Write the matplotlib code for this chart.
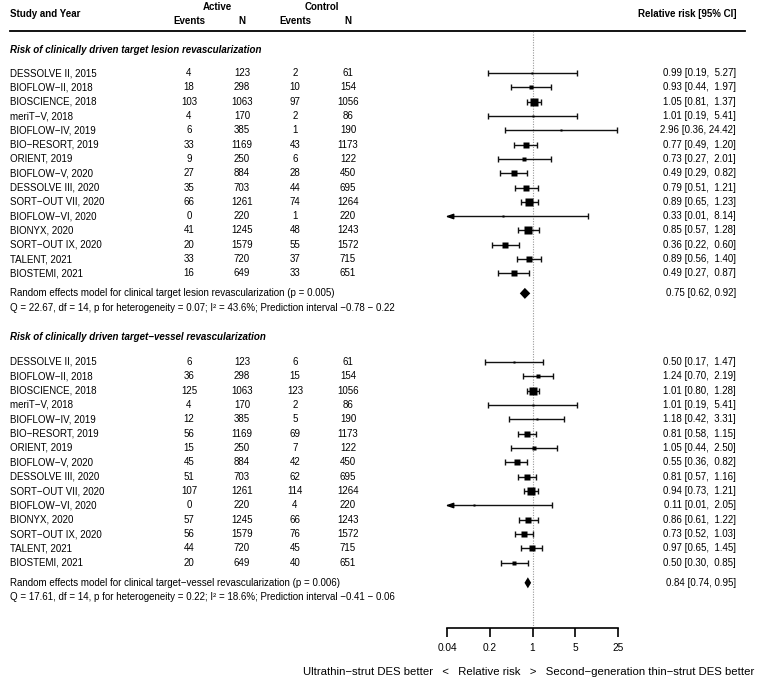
"""Forest plot: ultrathin-strut vs second-generation thin-strut DES."""

import numpy as np
import matplotlib
matplotlib.use("Agg")
import matplotlib.pyplot as plt
from matplotlib.lines import Line2D
from matplotlib.path import Path
from matplotlib.transforms import blended_transform_factory

plt.rcParams["font.family"] = ["Liberation Sans", "DejaVu Sans"]

# ---- data ----
studies = ["DESSOLVE II, 2015", "BIOFLOW\u2212II, 2018", "BIOSCIENCE, 2018",
           "meriT\u2212V, 2018", "BIOFLOW\u2212IV, 2019", "BIO\u2212RESORT, 2019",
           "ORIENT, 2019", "BIOFLOW\u2212V, 2020", "DESSOLVE III, 2020",
           "SORT\u2212OUT VII, 2020", "BIOFLOW\u2212VI, 2020", "BIONYX, 2020",
           "SORT\u2212OUT IX, 2020", "TALENT, 2021", "BIOSTEMI, 2021"]
n_active = [123, 298, 1063, 170, 385, 1169, 250, 884, 703, 1261, 220, 1245, 1579, 720, 649]
n_control = [61, 154, 1056, 86, 190, 1173, 122, 450, 695, 1264, 220, 1243, 1572, 715, 651]

tlr_ev_active = [4, 18, 103, 4, 6, 33, 9, 27, 35, 66, 0, 41, 20, 33, 16]
tlr_ev_control = [2, 10, 97, 2, 1, 43, 6, 28, 44, 74, 1, 48, 55, 37, 33]
tlr_rr = [0.99, 0.93, 1.05, 1.01, 2.96, 0.77, 0.73, 0.49, 0.79, 0.89, 0.33, 0.85, 0.36, 0.89, 0.49]
tlr_lo = [0.19, 0.44, 0.81, 0.19, 0.36, 0.49, 0.27, 0.29, 0.51, 0.65, 0.01, 0.57, 0.22, 0.56, 0.27]
tlr_hi = [5.27, 1.97, 1.37, 5.41, 24.42, 1.20, 2.01, 0.82, 1.21, 1.23, 8.14, 1.28, 0.60, 1.40, 0.87]
tlr_summary = (0.75, 0.62, 0.92)

tvr_ev_active = [6, 36, 125, 4, 12, 56, 15, 45, 51, 107, 0, 57, 56, 44, 20]
tvr_ev_control = [6, 15, 123, 2, 5, 69, 7, 42, 62, 114, 4, 66, 76, 45, 40]
tvr_rr = [0.50, 1.24, 1.01, 1.01, 1.18, 0.81, 1.05, 0.55, 0.81, 0.94, 0.11, 0.86, 0.73, 0.97, 0.50]
tvr_lo = [0.17, 0.70, 0.80, 0.19, 0.42, 0.58, 0.44, 0.36, 0.57, 0.73, 0.01, 0.61, 0.52, 0.65, 0.30]
tvr_hi = [1.47, 2.19, 1.28, 5.41, 3.31, 1.15, 2.50, 0.82, 1.16, 1.21, 2.05, 1.22, 1.03, 1.45, 0.85]
tvr_summary = (0.84, 0.74, 0.95)

sections = [
    dict(title="Risk of clinically driven target lesion revascularization",
         ev_a=tlr_ev_active, ev_c=tlr_ev_control, rr=tlr_rr, lo=tlr_lo, hi=tlr_hi,
         summary=tlr_summary,
         re_text="Random effects model for clinical target lesion revascularization (p = 0.005)",
         q_text="Q = 22.67, df = 14, p for heterogeneity = 0.07; I\u00b2 = 43.6%; "
                "Prediction interval \u22120.78 \u2212 0.22"),
    dict(title="Risk of clinically driven target\u2212vessel revascularization",
         ev_a=tvr_ev_active, ev_c=tvr_ev_control, rr=tvr_rr, lo=tvr_lo, hi=tvr_hi,
         summary=tvr_summary,
         re_text="Random effects model for clinical target\u2212vessel revascularization (p = 0.006)",
         q_text="Q = 17.61, df = 14, p for heterogeneity = 0.22; I\u00b2 = 18.6%; "
                "Prediction interval \u22120.41 \u2212 0.06"),
]

ticks = [0.04, 0.2, 1, 5, 25]
tick_labels = ["0.04", "0.2", "1", "5", "25"]

# ---- layout (pixel units from top) ----
W, H = 760, 683
row = 14.3
FS = 7

fig = plt.figure(figsize=(W / 100, H / 100), dpi=100)
ax_left, ax_right, ax_top, ax_bot = 447, 618, 32, 628
ax = fig.add_axes([ax_left / W, 1 - ax_bot / H, (ax_right - ax_left) / W, (ax_bot - ax_top) / H])
ax.set_xscale("log")
ax.set_xlim(ticks[0], ticks[-1])
ax.set_ylim(ax_bot, ax_top)
for s in ["top", "left", "right"]:
    ax.spines[s].set_visible(False)
ax.spines["bottom"].set_linewidth(1.2)
ax.set_yticks([])
ax.set_xticks(ticks)
ax.set_xticklabels(tick_labels)
ax.xaxis.set_minor_locator(matplotlib.ticker.NullLocator())
ax.tick_params(axis="x", direction="out", length=6.5, width=1.2, pad=4, labelsize=7.3)
ax.patch.set_alpha(0)

ax.axvline(1, color="#999999", lw=0.8, ls=(0, (1, 1.3)), zorder=0)

trans = blended_transform_factory(fig.transFigure, ax.transData)


def ftext(xpx, y, s, **kw):
    kw.setdefault("fontsize", FS)
    kw.setdefault("va", "center")
    ax.text(xpx / W, y, s, transform=trans, clip_on=False, **kw)


def fig_y(ypx):
    return 1 - ypx / H


# header
hdr = dict(fontsize=FS, fontweight="bold", va="center")
fig.text(10 / W, fig_y(14), "Study and Year", **hdr)
fig.text(217 / W, fig_y(7), "Active", ha="center", **hdr)
fig.text(322 / W, fig_y(7), "Control", ha="center", **hdr)
for xc, lab in zip([189, 242, 295, 348], ["Events", "N", "Events", "N"]):
    fig.text(xc / W, fig_y(21), lab, ha="center", **hdr)
fig.text(736 / W, fig_y(14), "Relative risk [95% CI]", ha="right", **hdr)
fig.add_artist(Line2D([10 / W, 745 / W], [fig_y(31), fig_y(31)], color="black", lw=1.3))

arrow_marker = Path([(0, 0), (2, 0.7), (2, -0.7), (0, 0)],
                    [Path.MOVETO, Path.LINETO, Path.LINETO, Path.CLOSEPOLY])

y_title = 50
for k, sec in enumerate(sections):
    rr = np.array(sec["rr"])
    lo = np.array(sec["lo"])
    hi = np.array(sec["hi"])
    ys = y_title + (1.62 + 0.12 * k) * row + (row + 0.05 * k) * np.arange(len(rr))

    # square size ~ sqrt of random-effects weight (DerSimonian-Laird)
    se = (np.log(hi) - np.log(lo)) / 3.92
    w = 1 / se ** 2
    yi = np.log(rr)
    mu = np.sum(w * yi) / np.sum(w)
    q = np.sum(w * (yi - mu) ** 2)
    tau2 = max(0.0, (q - (len(rr) - 1)) / (np.sum(w) - np.sum(w ** 2) / np.sum(w)))
    w_re = 1 / (se ** 2 + tau2)
    side = 8.4 * np.sqrt(w_re / w_re.max())
    side = np.clip(side, 2.4, None)

    ftext(10, y_title, sec["title"], fontweight="bold", style="italic")

    for i, y in enumerate(ys):
        ftext(10, y, studies[i])
        ftext(189, y, str(sec["ev_a"][i]), ha="center")
        ftext(242, y, str(n_active[i]), ha="center")
        ftext(295, y, str(sec["ev_c"][i]), ha="center")
        ftext(348, y, str(n_control[i]), ha="center")
        hi_s = f"{hi[i]:.2f}"
        pad = "  " if len(hi_s) < 5 else " "
        ftext(736, y, f"{rr[i]:.2f} [{lo[i]:.2f},{pad}{hi_s}]", ha="right")

        ax.errorbar(rr[i], y, xerr=[[rr[i] - lo[i]], [hi[i] - rr[i]]], fmt="none",
                    ecolor="#111111", elinewidth=1.0, capsize=2.4, capthick=1.0)
        ax.plot(rr[i], y, marker="s", ms=side[i] * 0.72, color="black", mec="none",
                clip_on=False, zorder=3)
        if lo[i] < ticks[0]:
            ax.plot(ticks[0], y, marker=arrow_marker, ms=9, color="black", mec="black",
                    clip_on=False, zorder=3)

    y_re = ys[-1] + 1.4 * row
    est, s_lo, s_hi = sec["summary"]
    ax.fill([s_lo, est, s_hi, est], [y_re, y_re - 5.5, y_re, y_re + 5.5], color="black",
            lw=0, zorder=3, clip_on=False)
    ftext(10, y_re, sec["re_text"])
    ftext(736, y_re, f"{est:.2f} [{s_lo:.2f}, {s_hi:.2f}]", ha="right")
    ftext(10, y_re + row, sec["q_text"])

    y_title = y_re + 3.05 * row

fig.text(529 / W, fig_y(672),
         "Ultrathin\u2212strut DES better   <   Relative risk   >   "
         "Second\u2212generation thin\u2212strut DES better",
         ha="center", va="center", fontsize=8.2)

fig.savefig("out.png", dpi=100, facecolor="white")
